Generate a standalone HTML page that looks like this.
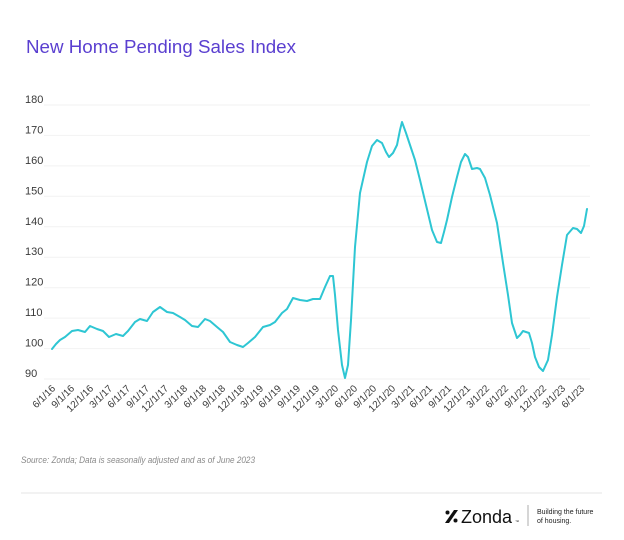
<!DOCTYPE html>
<html><head><meta charset="utf-8"><style>
html,body{margin:0;padding:0;background:#fff;}
svg{display:block;font-family:"Liberation Sans",sans-serif;}
</style></head><body>
<svg width="624" height="540" viewBox="0 0 624 540" xmlns="http://www.w3.org/2000/svg">
<rect width="624" height="540" fill="#fff"/>
<text x="26" y="53" font-size="18" fill="#5a3fd0" textLength="270" lengthAdjust="spacingAndGlyphs">New Home Pending Sales Index</text>
<g stroke="#f2f2f2" stroke-width="1">
<line x1="44" y1="105" x2="590" y2="105"/><line x1="44" y1="135.4" x2="590" y2="135.4"/>
<line x1="44" y1="165.9" x2="590" y2="165.9"/><line x1="44" y1="196.3" x2="590" y2="196.3"/>
<line x1="44" y1="226.8" x2="590" y2="226.8"/><line x1="44" y1="257.2" x2="590" y2="257.2"/>
<line x1="44" y1="287.7" x2="590" y2="287.7"/><line x1="44" y1="318.1" x2="590" y2="318.1"/>
<line x1="44" y1="348.6" x2="590" y2="348.6"/><line x1="44" y1="379" x2="590" y2="379"/>
</g>
<g font-size="11" fill="#3a3a3a">
<text x="25" y="103">180</text><text x="25" y="133.4">170</text><text x="25" y="163.9">160</text>
<text x="25" y="194.3">150</text><text x="25" y="224.8">140</text><text x="25" y="255.2">130</text>
<text x="25" y="285.7">120</text><text x="25" y="316.1">110</text><text x="25" y="346.6">100</text>
<text x="25" y="377">90</text>
</g>
<path fill="none" stroke="#2ec6d3" stroke-width="2" stroke-linejoin="round" stroke-linecap="round" d="M52,349 L56,344 L60,340 L65,337 L72,331 L78,330 L85,332 L90,326 L97,329 L103,331 L109,337 L116,334 L123,336 L128,331 L135,322 L140,319 L147,321 L153,312 L160,307 L167,312 L173,313 L180,317 L185,320 L192,326 L198,327 L205,319 L210,321 L217,327 L223,332 L230,342 L237,345 L243,347 L248,343 L255,337 L263,327 L270,325 L275,322 L282,313 L287,309 L293,298 L300,300 L307,301 L313,299 L320,299 L325,287 L330,276 L333,276 L335,295 L338,330 L342,365 L345,378 L348,365 L351,320 L355,247 L360,193 L367,162 L372,146 L377,140 L382,143 L386,152 L389,157 L393,153 L397,145 L400,130 L402,122 L406,133 L410,145 L415,160 L420,180 L426,205 L432,230 L437,242 L441,243 L444,232 L447,220 L452,197 L457,177 L461,162 L465,154 L468,157 L472,169 L477,168 L480,169 L485,178 L490,195 L497,223 L503,263 L508,295 L512,323 L517,338 L520,335 L523,331 L529,333 L532,343 L535,357 L539,367 L543,371 L548,360 L552,335 L557,297 L562,265 L567,235 L573,228 L577,229 L581,233 L584,226 L587,209"/>
<g font-size="10" fill="#3a3a3a" text-anchor="end">
<text transform="translate(56,389) rotate(-45)">6/1/16</text>
<text transform="translate(75,389) rotate(-45)">9/1/16</text>
<text transform="translate(94,389) rotate(-45)">12/1/16</text>
<text transform="translate(113,389) rotate(-45)">3/1/17</text>
<text transform="translate(131,389) rotate(-45)">6/1/17</text>
<text transform="translate(150,389) rotate(-45)">9/1/17</text>
<text transform="translate(169,389) rotate(-45)">12/1/17</text>
<text transform="translate(188,389) rotate(-45)">3/1/18</text>
<text transform="translate(207,389) rotate(-45)">6/1/18</text>
<text transform="translate(226,389) rotate(-45)">9/1/18</text>
<text transform="translate(245,389) rotate(-45)">12/1/18</text>
<text transform="translate(264,389) rotate(-45)">3/1/19</text>
<text transform="translate(282,389) rotate(-45)">6/1/19</text>
<text transform="translate(301,389) rotate(-45)">9/1/19</text>
<text transform="translate(320,389) rotate(-45)">12/1/19</text>
<text transform="translate(339,389) rotate(-45)">3/1/20</text>
<text transform="translate(358,389) rotate(-45)">6/1/20</text>
<text transform="translate(377,389) rotate(-45)">9/1/20</text>
<text transform="translate(396,389) rotate(-45)">12/1/20</text>
<text transform="translate(415,389) rotate(-45)">3/1/21</text>
<text transform="translate(433,389) rotate(-45)">6/1/21</text>
<text transform="translate(452,389) rotate(-45)">9/1/21</text>
<text transform="translate(471,389) rotate(-45)">12/1/21</text>
<text transform="translate(490,389) rotate(-45)">3/1/22</text>
<text transform="translate(509,389) rotate(-45)">6/1/22</text>
<text transform="translate(528,389) rotate(-45)">9/1/22</text>
<text transform="translate(547,389) rotate(-45)">12/1/22</text>
<text transform="translate(566,389) rotate(-45)">3/1/23</text>
<text transform="translate(585,389) rotate(-45)">6/1/23</text>
</g>
<text x="21" y="463" font-size="9.5" font-style="italic" fill="#8a8a8a" textLength="234" lengthAdjust="spacingAndGlyphs">Source: Zonda; Data is seasonally adjusted and as of June 2023</text>
<line x1="21" y1="493" x2="602" y2="493" stroke="#e6e6e6" stroke-width="1"/>
<g fill="#111">
<polygon points="454,510 458,510 449,523 445,523"/>
<circle cx="447.5" cy="512.5" r="2"/>
<circle cx="455.5" cy="520.5" r="2"/>
</g>
<text x="461" y="523" font-size="18" fill="#111">Zonda</text>
<text x="515" y="523" font-size="4" fill="#111">™</text>
<line x1="528" y1="505" x2="528" y2="526" stroke="#999" stroke-width="0.8"/>
<text x="537" y="514" font-size="7" fill="#222">Building the future</text>
<text x="537" y="523" font-size="7" fill="#222">of housing.</text>
</svg>
</body></html>
